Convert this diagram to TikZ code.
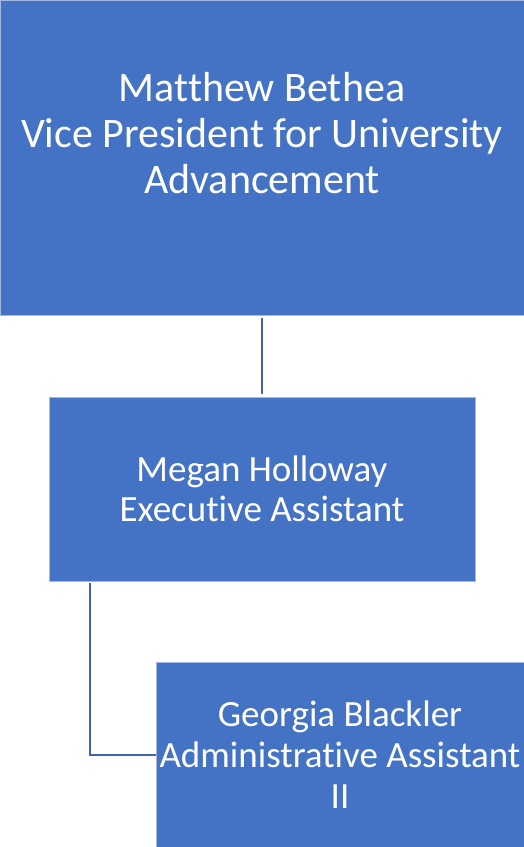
\documentclass[tikz,border=0pt]{standalone}
\usepackage{fontspec}
\setmainfont{Carlito}[Ligatures={NoCommon}]
\usepackage{tikz}
\usetikzlibrary{positioning}

\definecolor{boxblue}{HTML}{4472C4}
\definecolor{edgeblue}{HTML}{A3B8E2}
\definecolor{linkblue}{HTML}{3F65B0}

\begin{document}
\begin{tikzpicture}[x=1pt, y=-1pt,
  box/.style={rectangle, fill=boxblue, draw=edgeblue, line width=.8pt, text=white, align=center, inner sep=0pt},
  link/.style={linkblue, line width=2pt}]
\useasboundingbox (0,0) rectangle (524,847);
% Boxes
\node[box, minimum width=524, minimum height=315,
  label={[text=white, align=center, yshift=24, font=\fontsize{42}{46}\selectfont]center:Matthew Bethea\\Vice President for University\\Advancement}] (vp) at (262,157.5) {};
\node[box, minimum width=426, minimum height=184, font=\fontsize{37}{40}\selectfont] (ea) at (262,489) {Megan Holloway\\Executive Assistant};
\node[box, minimum width=368, minimum height=185, font=\fontsize{37}{41}\selectfont] (aa) at (340,754.5) {Georgia Blackler\\Administrative Assistant\\II};
% Lines
\draw[link, shorten <=3pt, shorten >=3pt] (vp.south) -- (ea.north);
\draw[link, shorten <=2pt] ([xshift=41pt]ea.south west) |- (aa.west);
\end{tikzpicture}
\end{document}
